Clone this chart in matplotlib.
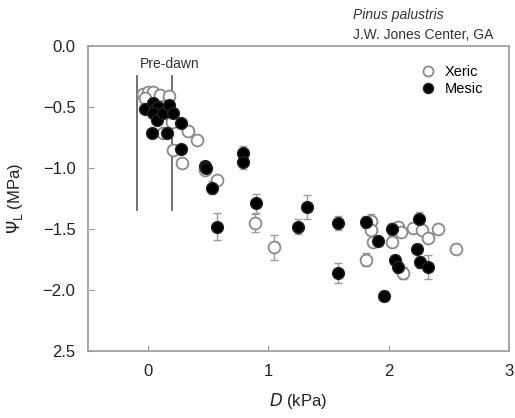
import matplotlib
matplotlib.use("Agg")
import matplotlib.pyplot as plt
import numpy as np

plt.rcParams['font.family'] = ['Liberation Sans', 'DejaVu Sans']

# Mesic (filled)
mesic_D = [-0.025, 0.04, 0.06, 0.08, 0.04, 0.07, 0.125, 0.17, 0.21, 0.27, 0.03, 0.16,
           0.275, 0.47, 0.48, 0.53, 0.79, 0.79, 0.90, 0.575, 1.32, 1.25, 1.58, 1.81,
           1.91, 2.03, 2.25, 2.24, 2.05, 2.075, 2.26, 2.33, 1.58, 1.96]
mesic_psi = [-0.52, -0.47, -0.52, -0.50, -0.55, -0.61, -0.55, -0.48, -0.55, -0.63, -0.71, -0.71,
             -0.84, -0.98, -1.00, -1.16, -0.88, -0.95, -1.29, -1.48, -1.32, -1.48, -1.45, -1.44,
             -1.60, -1.50, -1.42, -1.66, -1.75, -1.81, -1.77, -1.81, -1.86, -2.05]
mesic_err = [0.02, 0.02, 0.02, 0.02, 0.02, 0.02, 0.02, 0.02, 0.02, 0.02, 0.02, 0.02,
             0.03, 0.03, 0.03, 0.05, 0.06, 0.06, 0.08, 0.11, 0.10, 0.06, 0.06, 0.05,
             0.04, 0.05, 0.06, 0.04, 0.04, 0.05, 0.05, 0.10, 0.08, 0.04]

# Xeric (open)
xeric_D = [-0.04, 0.0, 0.04, 0.10, 0.17, -0.025, 0.20, 0.12, 0.33, 0.41, 0.21, 0.28,
           0.475, 0.575, 0.89, 1.05, 1.85, 1.85, 1.87, 1.81, 2.03, 2.08, 2.10, 2.20,
           2.275, 2.325, 2.41, 2.12, 2.56]
xeric_psi = [-0.39, -0.38, -0.38, -0.40, -0.41, -0.43, -0.62, -0.71, -0.70, -0.77, -0.85, -0.96,
             -1.02, -1.10, -1.45, -1.65, -1.43, -1.51, -1.61, -1.75, -1.61, -1.48, -1.52, -1.49,
             -1.51, -1.57, -1.50, -1.86, -1.66]
xeric_err = [0.02, 0.02, 0.02, 0.02, 0.02, 0.02, 0.02, 0.02, 0.02, 0.02, 0.03, 0.03,
             0.03, 0.03, 0.07, 0.10, 0.05, 0.04, 0.04, 0.05, 0.04, 0.04, 0.04, 0.04,
             0.04, 0.04, 0.04, 0.05, 0.04]

yticks = [0.0, -0.5, -1.0, -1.5, -2.0, -2.5]
ytick_labels = ['0.0', '\u22120.5', '\u22121.0', '\u22121.5', '\u22122.0', '2.5']
xticks = [0, 1, 2, 3]
predawn_bounds = [-0.09, 0.2]

fig = plt.figure(figsize=(5.15, 4.18), dpi=100)
ax = fig.add_axes([0.171, 0.160, 0.817, 0.730])

grey = '#9a9a9a'
ax.errorbar(xeric_D, xeric_psi, yerr=xeric_err, fmt='none', ecolor=grey, elinewidth=1.0,
            capsize=3, capthick=1.0, zorder=2)
ax.errorbar(mesic_D, mesic_psi, yerr=mesic_err, fmt='none', ecolor=grey, elinewidth=1.0,
            capsize=3, capthick=1.0, zorder=2)
ax.plot(xeric_D, xeric_psi, 'o', ms=8.5, mfc='white', mec='#8a8a8a', mew=1.3,
        linestyle='none', zorder=3, label='Xeric')
ax.plot(mesic_D, mesic_psi, 'o', ms=8.5, mfc='black', mec='#222222', mew=1.0,
        linestyle='none', zorder=4, label='Mesic')

for xb in predawn_bounds:
    ax.plot([xb, xb], [-0.25, -1.34], color='#666666', lw=1.3, zorder=1)
ax.text(-0.065, -0.15, 'Pre-dawn', fontsize=10, color='#333333', va='center', ha='left')

ax.set_xlim(-0.5, 3.0)
ax.set_ylim(-2.5, 0.0)
ax.set_xticks(xticks)
ax.set_yticks(yticks)
ax.set_yticklabels(ytick_labels)
ax.tick_params(direction='in', length=4, color=grey, labelsize=12, labelcolor='#222222', pad=9)
for s in ax.spines.values():
    s.set_color(grey)
    s.set_linewidth(1.2)

ax.set_xlabel(r'$\mathit{D}$ (kPa)', fontsize=12, labelpad=9, color='#222222')
ax.set_ylabel(r'$\mathit{\Psi}_{\mathrm{L}}$ (MPa)', fontsize=12, labelpad=13, color='#222222')

leg = ax.legend(loc='upper left', bbox_to_anchor=(0.755, 0.98), frameon=False, fontsize=10.5,
                handletextpad=0.6, markerscale=0.85, labelspacing=0.2, handlelength=1.2)

fig.text(353/515, 1 - 15/418, 'Pinus palustris', fontsize=10, style='italic', color='#333333',
         ha='left', va='center')
fig.text(353/515, 1 - 35/418, 'J.W. Jones Center, GA', fontsize=10, color='#333333',
         ha='left', va='center')

fig.savefig('out.png', dpi=100)
